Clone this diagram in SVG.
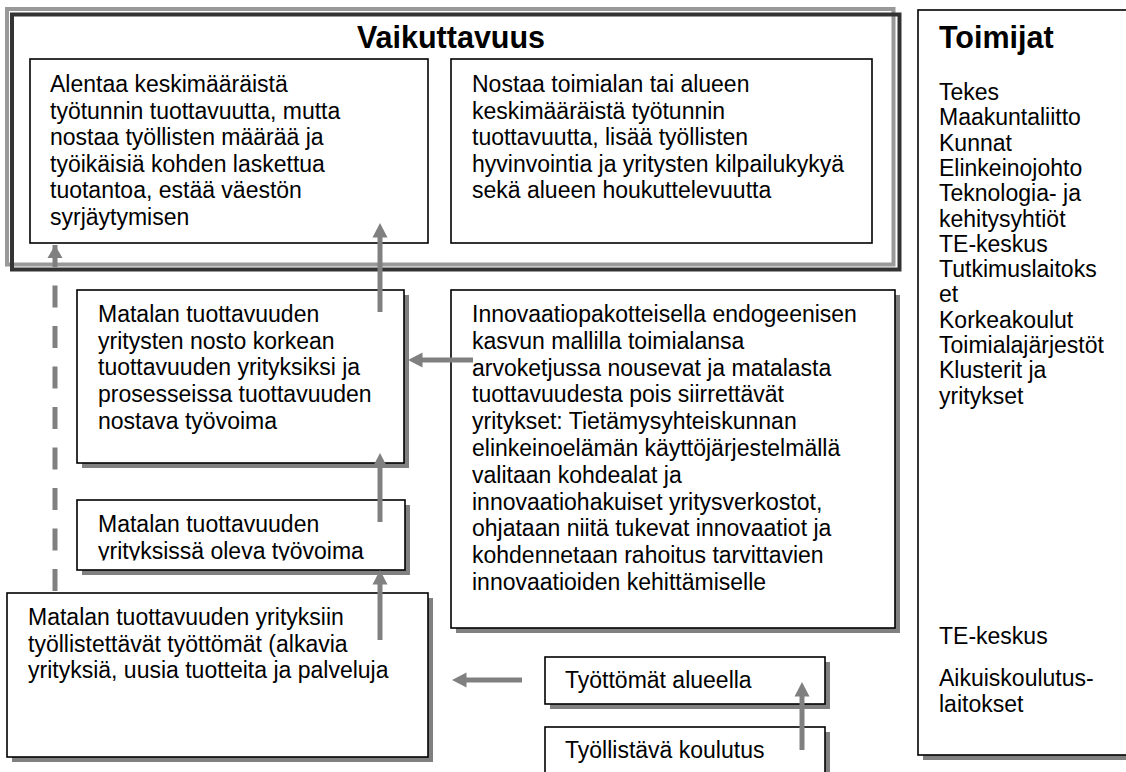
<svg xmlns="http://www.w3.org/2000/svg" width="1126" height="772" viewBox="0 0 1126 772">
<style>
text{font-family:"Liberation Sans",Arial,sans-serif;fill:#000}
.t{font-size:23px}
.h{font-size:30.5px;font-weight:bold}
.box{fill:#fff;stroke:#000;stroke-width:1.6}
.sh{fill:#808080}
.ar{stroke:#808080;stroke-width:5;fill:none}
.ah{fill:#808080}
</style>
<defs>
<clipPath id="clipD"><rect x="77" y="500" width="328" height="60.5"/></clipPath>
</defs>
<rect width="1126" height="772" fill="#fff"/>

<g id="vaikuttavuus">
<rect x="7" y="9" width="886.5" height="255.5" fill="#fff" stroke="#999" stroke-width="4"/>
<rect x="12" y="14.5" width="887.5" height="255" fill="none" stroke="#333" stroke-width="4"/>
<text class="h" x="451" y="48" text-anchor="middle">Vaikuttavuus</text>
</g>

<g id="boxA">
<rect class="box" x="30" y="59" width="398" height="184"/>
<text class="t" x="50" y="92">Alentaa keskimääräistä</text>
<text class="t" x="50" y="118.6">työtunnin tuottavuutta, mutta</text>
<text class="t" x="50" y="145.2">nostaa työllisten määrää ja</text>
<text class="t" x="50" y="171.8">työikäisiä kohden laskettua</text>
<text class="t" x="50" y="198.4">tuotantoa, estää väestön</text>
<text class="t" x="50" y="225">syrjäytymisen</text>
</g>

<g id="boxB">
<rect class="box" x="451" y="59" width="421" height="184"/>
<text class="t" x="472" y="92">Nostaa toimialan tai alueen</text>
<text class="t" x="472" y="118.6">keskimääräistä työtunnin</text>
<text class="t" x="472" y="145.2">tuottavuutta, lisää työllisten</text>
<text class="t" x="472" y="171.8">hyvinvointia ja yritysten kilpailukykyä</text>
<text class="t" x="472" y="198.4">sekä alueen houkuttelevuutta</text>
</g>

<g id="toimijat">
<rect class="sh" x="923" y="15" width="220" height="745"/>
<rect class="box" x="918" y="10" width="220" height="745"/>
<text class="h" x="939" y="48">Toimijat</text>
<text class="t" x="939" y="100">Tekes</text>
<text class="t" x="939" y="125.3">Maakuntaliitto</text>
<text class="t" x="939" y="150.6">Kunnat</text>
<text class="t" x="939" y="175.9">Elinkeinojohto</text>
<text class="t" x="939" y="201.2">Teknologia- ja</text>
<text class="t" x="939" y="226.5">kehitysyhtiöt</text>
<text class="t" x="939" y="251.8">TE-keskus</text>
<text class="t" x="939" y="277.1">Tutkimuslaitoks</text>
<text class="t" x="939" y="302.4">et</text>
<text class="t" x="939" y="327.7">Korkeakoulut</text>
<text class="t" x="939" y="353">Toimialajärjestöt</text>
<text class="t" x="939" y="378.3">Klusterit ja</text>
<text class="t" x="939" y="403.6">yritykset</text>
<text class="t" x="939" y="644">TE-keskus</text>
<text class="t" x="939" y="686">Aikuiskoulutus-</text>
<text class="t" x="939" y="712">laitokset</text>
</g>

<g id="boxC">
<rect class="sh" x="82" y="295" width="327" height="173"/>
<rect class="box" x="77" y="290" width="327" height="173"/>
<text class="t" x="98" y="322">Matalan tuottavuuden</text>
<text class="t" x="98" y="348.7">yritysten nosto korkean</text>
<text class="t" x="98" y="375.4">tuottavuuden yrityksiksi ja</text>
<text class="t" x="98" y="402">prosesseissa tuottavuuden</text>
<text class="t" x="98" y="428.6">nostava työvoima</text>
</g>

<g id="boxD">
<rect class="sh" x="82" y="505" width="328" height="70"/>
<rect class="box" x="77" y="500" width="328" height="70"/>
<g clip-path="url(#clipD)">
<text class="t" x="98" y="532">Matalan tuottavuuden</text>
<text class="t" x="98" y="558.6">yrityksissä oleva työvoima</text>
</g>
</g>

<g id="boxE">
<rect class="sh" x="12" y="598" width="421" height="164"/>
<rect class="box" x="7" y="593" width="421" height="164"/>
<text class="t" x="28" y="625">Matalan tuottavuuden yrityksiin</text>
<text class="t" x="28" y="651.7">työllistettävät työttömät (alkavia</text>
<text class="t" x="28" y="678.4">yrityksiä, uusia tuotteita ja palveluja</text>
</g>

<g id="boxF">
<rect class="sh" x="456" y="295" width="444" height="338"/>
<rect class="box" x="451" y="290" width="444" height="338"/>
<text class="t" x="472" y="322">Innovaatiopakotteisella endogeenisen</text>
<text class="t" x="472" y="348.8">kasvun mallilla toimialansa</text>
<text class="t" x="472" y="375.6">arvoketjussa nousevat ja matalasta</text>
<text class="t" x="472" y="402.4">tuottavuudesta pois siirrettävät</text>
<text class="t" x="472" y="429.2">yritykset: Tietämysyhteiskunnan</text>
<text class="t" x="472" y="456">elinkeinoelämän käyttöjärjestelmällä</text>
<text class="t" x="472" y="482.8">valitaan kohdealat ja</text>
<text class="t" x="472" y="509.6">innovaatiohakuiset yritysverkostot,</text>
<text class="t" x="472" y="536.4">ohjataan niitä tukevat innovaatiot ja</text>
<text class="t" x="472" y="563.2">kohdennetaan rahoitus tarvittavien</text>
<text class="t" x="472" y="590">innovaatioiden kehittämiselle</text>
</g>

<g id="boxG">
<rect class="sh" x="550" y="662" width="280" height="47"/>
<rect class="box" x="545" y="657" width="280" height="47"/>
<text class="t" x="565" y="688">Työttömät alueella</text>
</g>

<g id="boxH">
<rect class="sh" x="550" y="732" width="280" height="70"/>
<rect class="box" x="545" y="727" width="280" height="70"/>
<text class="t" x="565" y="758">Työllistävä koulutus</text>
</g>

<g id="connectors">
<line class="ar" x1="380" y1="312" x2="380" y2="236"/>
<polygon class="ah" points="380,223 372.5,237.5 387.5,237.5"/>
<line class="ar" x1="380" y1="522" x2="380" y2="466"/>
<polygon class="ah" points="380,453 372.5,467.5 387.5,467.5"/>
<line class="ar" x1="380" y1="640" x2="380" y2="583"/>
<polygon class="ah" points="380,570 372.5,584.5 387.5,584.5"/>
<line class="ar" x1="473" y1="360" x2="421" y2="360"/>
<polygon class="ah" points="408,360 422.5,352.5 422.5,367.5"/>
<line class="ar" x1="522" y1="680" x2="465" y2="680"/>
<polygon class="ah" points="452,680 466.5,672.5 466.5,687.5"/>
<line class="ar" x1="802" y1="750" x2="802" y2="695"/>
<polygon class="ah" points="802,682 794.5,696.5 809.5,696.5"/>
<line class="ar" x1="55" y1="245" x2="55" y2="593" stroke-dasharray="22 18.5"/>
<polygon class="ah" points="55,245 47.5,258 62.5,258"/>
</g>
</svg>
